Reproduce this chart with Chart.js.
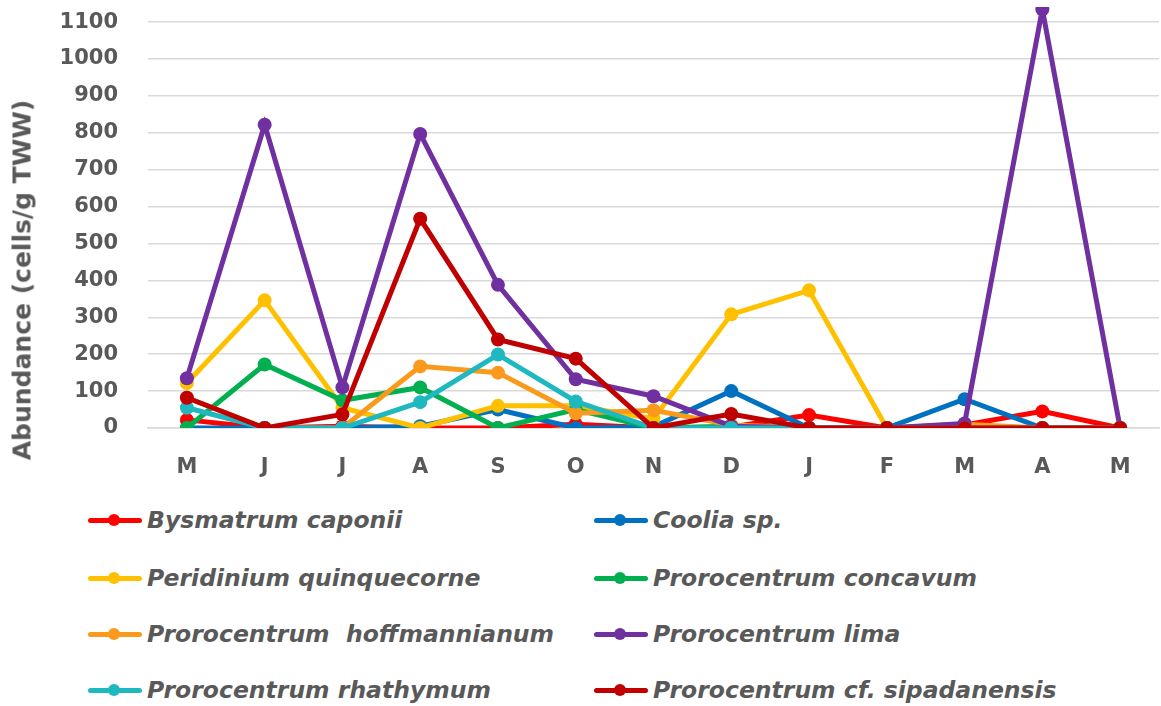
<!DOCTYPE html>
<html>
<head>
<meta charset="utf-8">
<script src="https://cdn.jsdelivr.net/npm/chart.js@4.4.0/dist/chart.umd.min.js"></script>
<style>
body { margin: 0; background: white; overflow: hidden; width: 1161px; height: 706px; position: relative; }
#wrap { position: absolute; left: 0; top: 0; width: 1166px; height: 485px; }
#ytitle { position: absolute; left: 22px; top: 280px; transform: translate(-50%, -50%) rotate(-90deg);
  font: bold 25px "DejaVu Sans"; color: #595959; white-space: nowrap; }
.item { position: absolute; height: 30px; display: flex; align-items: center;
  font: italic bold 23.5px "DejaVu Sans"; color: #595959; white-space: nowrap; }
.mark { position: relative; width: 54px; height: 14px; margin-right: 5px; }
.mark .ln { position: absolute; left: 0; right: 0; top: 4.5px; height: 5px; border-radius: 3px; }
.mark .dot { position: absolute; left: 20px; top: 1px; width: 12px; height: 12px; border-radius: 6px; }
</style>
</head>
<body>
<div id="wrap"><canvas id="myChart"></canvas></div>
<div id="ytitle">Abundance (cells/g TWW)</div>
<div id="legend"></div>
<script>
var xValues = ["M", "J", "J", "A", "S", "O", "N", "D", "J", "F", "M", "A", "M"]
var yTickValues = [0, 100, 200, 300, 400, 500, 600, 700, 800, 900, 1000, 1100]

var seriesNames = ["Bysmatrum caponii", "Coolia sp.", "Peridinium quinquecorne", "Prorocentrum concavum",
    "Prorocentrum  hoffmannianum", "Prorocentrum lima", "Prorocentrum rhathymum", "Prorocentrum cf. sipadanensis"]

var bysmatrum     = [22, 0, 5, 0, 0, 10, 0, 3, 35, 0, 8, 45, 0]
var coolia        = [0, 0, 0, 5, 50, 0, 3, 100, 0, 0, 78, 0, 0]
var peridinium    = [122, 346, 55, 0, 60, 60, 25, 308, 373, 0, 5, 0, 0]
var concavum      = [0, 172, 75, 110, 0, 50, 0, 5, 0, 0, 0, 0, 0]
var hoffmannianum = [82, 0, 0, 167, 150, 40, 48, 8, 0, 0, 10, 0, 0]
var lima          = [135, 822, 110, 797, 388, 132, 86, 5, 0, 0, 12, 1135, 0]
var rhathymum     = [55, 0, 0, 70, 199, 72, 0, 0, 0, 0, 0, 0, 0]
var sipadanensis  = [82, 0, 37, 567, 240, 188, 0, 38, 0, 0, 0, 0, 0]

var allSeries = [bysmatrum, coolia, peridinium, concavum, hoffmannianum, lima, rhathymum, sipadanensis]
var colors = ["#FF0000", "#0070C0", "#FFC000", "#00B050", "#F99A1C", "#7030A0", "#1DB8C0", "#C00000"]

var datasets = []
for (var i = 0; i < allSeries.length; i++) {
    datasets.push({
        label: seriesNames[i],
        data: allSeries[i],
        borderColor: colors[i],
        backgroundColor: colors[i],
        pointBackgroundColor: colors[i],
        pointBorderWidth: 0,
        pointRadius: 7,
        borderWidth: 5,
        tension: 0,
        fill: false,
        order: allSeries.length - i   // later series on top, like the original
    })
}

var gray = "#595959"

chart = new Chart("myChart", {
    type: "line",
    data: {
        labels: xValues,
        datasets: datasets
    },
    options: {
        responsive: true,
        maintainAspectRatio: false,
        animation: false,
        layout: {padding: 0},
        plugins: {
            legend: {display: false},
            tooltip: {enabled: false}
        },
        scales: {
            x: {
                offset: true,
                grid: {display: false, drawTicks: false},
                border: {color: "#D9D9D9", width: 1.5},
                ticks: {color: gray, font: {family: "DejaVu Sans", size: 21, weight: "bold"}, padding: 27, maxRotation: 0, autoSkip: false},
                afterFit: function(scale) { scale.height = 57 }
            },
            y: {
                min: 0,
                max: 1141,
                grid: {color: "#D9D9D9", lineWidth: 1.5, drawTicks: false},
                border: {display: false},
                ticks: {
                    color: gray, font: {family: "DejaVu Sans", size: 21, weight: "bold"}, padding: 30, autoSkip: false,
                    callback: function(v) { return String(v) }
                },
                afterBuildTicks: function(scale) {
                    scale.ticks = yTickValues.map(function(v) { return {value: v} })
                },
                afterFit: function(scale) {
                    scale.width = 148
                    // tick padding is also added above/below, which the original does not have
                    scale.paddingTop = 0
                    scale.paddingBottom = 0
                }
            }
        }
    }
});

// two column legend below the chart
var legendDiv = document.getElementById("legend")
var colX = [88, 594]
var rowY = [520, 578, 634, 690]
for (var i = 0; i < chart.data.datasets.length; i++) {
    var ds = chart.data.datasets[i]
    var item = document.createElement("div")
    item.className = "item"
    item.style.left = colX[i % 2] + "px"
    item.style.top = (rowY[Math.floor(i / 2)] - 15) + "px"
    item.innerHTML = '<span class="mark"><span class="ln" style="background:' + ds.borderColor + '"></span>' +
        '<span class="dot" style="background:' + ds.borderColor + '"></span></span>'
    var txt = document.createElement("span")
    txt.textContent = ds.label
    txt.style.whiteSpace = "pre"
    item.appendChild(txt)
    legendDiv.appendChild(item)
}
</script>
</body>
</html>
